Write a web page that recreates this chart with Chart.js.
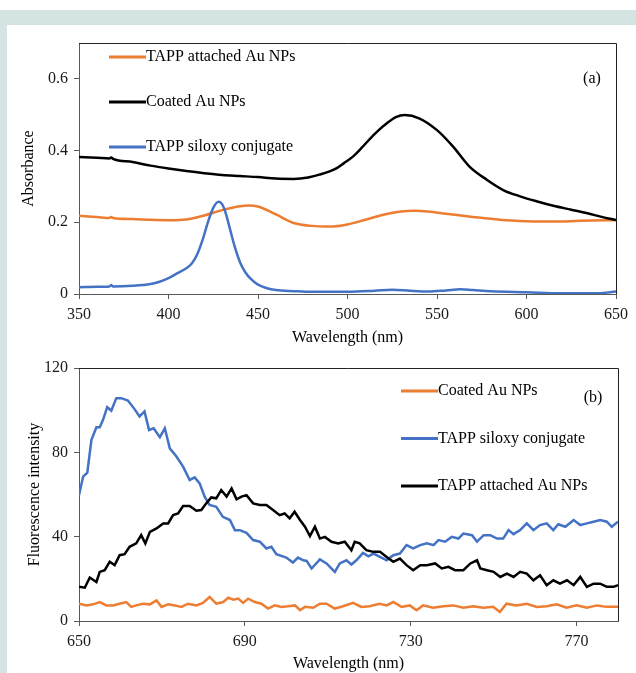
<!DOCTYPE html>
<html>
<head>
<meta charset="utf-8">
<script src="https://cdn.jsdelivr.net/npm/chart.js@4.4.0/dist/chart.umd.min.js"></script>
<style>
body { margin: 0; background: #fff; width: 636px; height: 673px; position: relative; overflow: hidden; }
#band { position: absolute; left: 0; top: 10px; width: 636px; height: 15px; background: #d4e4e3; }
#strip { position: absolute; left: 0; top: 10px; width: 7px; height: 663px; background: #d4e4e3; }
#boxA { position: absolute; left: 7px; top: 25px; }
#boxB { position: absolute; left: 7px; top: 350px; }
</style>
</head>
<body>
<div id="band"></div>
<div id="strip"></div>
<div id="boxA"><canvas id="chartA" width="629" height="325"></canvas></div>
<div id="boxB"><canvas id="chartB" width="629" height="323"></canvas></div>
<script>
// tick labels
const ticksXA = [350, 400, 450, 500, 550, 600, 650];
const ticksYA = [0, 0.2, 0.4, 0.6];
const ticksXB = [650, 690, 730, 770];
const ticksYB = [0, 40, 80, 120];

// (a) absorbance spectra
const attachedWl = [350, 360, 367, 368, 369, 380, 390, 400, 410, 420, 430, 440, 445, 450, 460, 470, 480, 490, 500, 510, 520, 530, 537, 545, 555, 570, 585, 600, 615, 630, 650];
const attachedAbs = [0.218, 0.215, 0.212, 0.215, 0.212, 0.209, 0.207, 0.206, 0.208, 0.219, 0.234, 0.245, 0.247, 0.244, 0.222, 0.198, 0.190, 0.188, 0.194, 0.207, 0.221, 0.230, 0.232, 0.230, 0.224, 0.215, 0.207, 0.203, 0.202, 0.204, 0.206];

const coatedWl = [350, 360, 367, 368, 369, 380, 390, 400, 410, 420, 430, 440, 450, 460, 470, 478, 485, 490, 494, 498, 503, 508, 512, 517, 522, 527, 532, 540, 550, 559, 568, 578, 587, 596, 606, 615, 625, 634, 642, 650];
const coatedAbs = [0.382, 0.380, 0.378, 0.381, 0.377, 0.368, 0.358, 0.350, 0.343, 0.337, 0.332, 0.329, 0.326, 0.322, 0.321, 0.325, 0.334, 0.342, 0.351, 0.365, 0.383, 0.408, 0.430, 0.455, 0.476, 0.493, 0.499, 0.490, 0.457, 0.411, 0.356, 0.318, 0.290, 0.273, 0.258, 0.246, 0.235, 0.225, 0.215, 0.206];

const siloxyWl = [350, 360, 367, 368, 369, 380, 390, 395, 400, 405, 410, 413, 416, 419, 422, 425, 428, 430, 432, 434, 437, 440, 443, 446, 450, 455, 460, 470, 480, 500, 515, 525, 535, 545, 555, 563, 570, 580, 600, 620, 640, 650];
const siloxyAbs = [0.019, 0.020, 0.021, 0.025, 0.021, 0.023, 0.028, 0.034, 0.044, 0.058, 0.072, 0.085, 0.110, 0.150, 0.200, 0.240, 0.257, 0.250, 0.225, 0.188, 0.132, 0.088, 0.060, 0.042, 0.026, 0.016, 0.011, 0.008, 0.006, 0.006, 0.009, 0.012, 0.009, 0.007, 0.010, 0.013, 0.011, 0.008, 0.005, 0.002, 0.002, 0.007];

// (b) fluorescence spectra
const flSiloxyWl = [650, 651, 652, 653, 654.2, 655, 655.8, 656.8, 657.8, 659, 660.2, 661.8, 663.4, 664.6, 665.8, 666.9, 668, 669.5, 670.7, 671.9, 673.5, 675.1, 676.7, 677.9, 679.1, 680.3, 681.5, 683.1, 684.7, 686.4, 687.6, 688.8, 690.4, 692, 693.6, 695.2, 696.4, 697.6, 700, 701.6, 702.8, 704.1, 704.9, 706.1, 708.1, 709.7, 711.7, 712.9, 714.5, 715.7, 716.9, 718.5, 719.8, 721, 722.6, 724.2, 725.8, 727.4, 729, 730.6, 732.3, 733.9, 735.5, 736.7, 738.3, 739.9, 741.5, 742.7, 744.8, 746, 747.6, 749.2, 750.8, 752.3, 753.6, 754.8, 756.4, 758, 759.6, 761.2, 762.8, 764.4, 765.6, 767.3, 769.3, 770.9, 772.5, 774.1, 775.7, 777.3, 778.5, 780];
const flSiloxy = [59.7, 68.5, 70.4, 85.9, 91.9, 91.9, 95.4, 101.4, 99.8, 105.7, 105.7, 104.6, 100.5, 97, 99.4, 90.6, 91.4, 87.2, 91.4, 81.9, 78, 73.2, 66.9, 68.1, 65.3, 59, 55, 54.2, 49.4, 47.9, 43.1, 43.1, 41.8, 38.4, 37.6, 34.4, 35.2, 31.7, 30.1, 27.7, 30.1, 28.8, 28.5, 24.9, 29.2, 27.3, 23.3, 27.3, 28.8, 26.8, 28.8, 32.3, 30.7, 32, 30.4, 28.8, 31.2, 32, 36, 34.4, 36, 36.8, 36, 38.4, 37.6, 39.9, 39.1, 41.5, 40.7, 37.6, 40.7, 40.7, 39.1, 39.1, 43.1, 41.2, 43.1, 46.3, 43.1, 45.5, 46.3, 43.1, 45.9, 44.7, 47.9, 45.5, 46.3, 47.1, 47.9, 47.1, 44.7, 47.1];

const flAttachedWl = [650, 651.4, 652.6, 654.2, 655, 656.2, 657.4, 658.6, 659.8, 661, 662.2, 663.8, 665, 666, 667.1, 668.7, 670.3, 671.5, 672.7, 673.9, 675.1, 676.7, 678.3, 679.5, 680.7, 681.9, 683.1, 684.3, 685.6, 686.8, 688, 689.2, 690.4, 692, 693.6, 695.2, 696.8, 698.4, 699.6, 700.8, 702, 703.3, 704.5, 705.7, 706.9, 708.1, 709.3, 710.9, 712.5, 714.1, 715.7, 716.5, 717.7, 719.3, 721, 722.6, 724.2, 725.8, 727.4, 729, 730.6, 732.3, 733.9, 735.9, 737.5, 739.1, 740.7, 742.7, 744.4, 746, 746.8, 748.4, 750, 751.6, 753.2, 754.8, 756.4, 758, 759.6, 761.2, 762.8, 764.4, 766, 767.7, 769.3, 770.9, 772.5, 774.1, 775.7, 777.3, 778.9, 780];
const flAttached = [16.2, 15.8, 20.6, 18.5, 23.3, 24.1, 28.1, 26.5, 31.2, 31.7, 35.2, 36.8, 40.7, 36.8, 42.3, 43.9, 46.3, 46.3, 50.2, 51, 54.5, 54.5, 52.3, 52.6, 55.8, 58.6, 58.2, 62.1, 59, 62.9, 57.7, 59, 59.7, 55.8, 55, 55, 52.6, 50.2, 51, 48.7, 51.8, 47.9, 44.7, 40.3, 44.7, 39.1, 39.9, 37.6, 36.8, 37.6, 33.6, 37.6, 36.8, 33.6, 32.8, 32.8, 30.4, 28.1, 29.6, 26.5, 24.1, 26.5, 26.5, 27.3, 24.9, 25.7, 24.1, 24.1, 27.3, 28.8, 24.9, 24.1, 23.3, 20.9, 22.5, 20.9, 23.3, 22.5, 19.3, 21.7, 17, 19.3, 17.7, 19.3, 17, 20.9, 16.2, 17.7, 17.7, 16.2, 16.2, 17];

const flCoatedWl = [650, 651.8, 653.4, 655, 656.6, 658.2, 659.8, 661.4, 662.6, 663.8, 665.4, 667.1, 668.7, 669.9, 671.5, 673.1, 674.7, 676.3, 678.3, 679.9, 681.5, 683.1, 684.8, 686, 687.2, 688.4, 689.6, 690.8, 692.4, 694, 695.6, 697.2, 698.8, 700.4, 702.1, 703.3, 704.5, 706.5, 708.1, 709.7, 711.7, 713.7, 716.1, 718.1, 720.1, 722.5, 724.2, 725.8, 727.8, 729.8, 731.4, 733, 735.4, 737.9, 740.3, 742.7, 745.1, 747.5, 749.9, 751.5, 753.1, 755.5, 758, 760.4, 762.8, 765.2, 767.6, 770, 772.5, 774.9, 777.3, 780];
const flCoated = [8.2, 7.4, 7.9, 9, 7.4, 7.4, 8.2, 9, 6.7, 7.4, 8.2, 7.9, 9.8, 6.7, 7.9, 7.4, 6.7, 8.2, 7.4, 8.6, 11.4, 8.2, 9, 11.1, 10.1, 10.6, 8.6, 10.6, 9, 8.2, 5.9, 7.4, 6.7, 7, 7.4, 5.1, 6.7, 6.3, 8.2, 8.2, 5.9, 7, 8.6, 6.7, 7, 8.2, 7.4, 9, 6.7, 7.4, 5.1, 7.4, 6.3, 7, 7.4, 6.3, 7, 6.3, 6.7, 4.3, 8.2, 7.4, 8.2, 6.7, 7, 7.9, 6.3, 7.4, 6.3, 7.4, 6.7, 6.7];

const ORANGE = '#ed7d31';
const BLUE = '#4472c4';
const BLACK = '#000000';
const FONT = '"Liberation Serif", "Times New Roman", serif';

function pts(xs, ys) {
  return xs.map(function(x, i) { return { x: x, y: ys[i] }; });
}

// top + right frame, legend drawn inside the plot, panel letter
const framePlugin = {
  id: 'frame',
  afterDraw(chart, args, opts) {
    const ctx = chart.ctx;
    const a = chart.chartArea;
    ctx.save();
    ctx.strokeStyle = '#222';
    ctx.lineWidth = 1;
    ctx.beginPath();
    ctx.moveTo(a.left, a.top + 0.5);
    ctx.lineTo(a.right + 0.5, a.top + 0.5);
    ctx.lineTo(a.right + 0.5, a.bottom);
    ctx.stroke();

    ctx.font = '16px ' + FONT;
    ctx.textBaseline = 'middle';
    ctx.fillStyle = '#000';
    opts.order.forEach(function(di, k) {
      const ds = chart.data.datasets[di];
      const y = a.top + opts.y + k * opts.gap;
      const x = a.left + opts.x;
      ctx.strokeStyle = ds.borderColor;
      ctx.lineWidth = 3;
      ctx.beginPath();
      ctx.moveTo(x, y);
      ctx.lineTo(x + 37, y);
      ctx.stroke();
      ctx.textAlign = 'left';
      ctx.fillText(ds.label, x + 37, y);
    });
    ctx.textAlign = 'center';
    ctx.fillText(opts.tag, a.left + opts.tagX, a.top + opts.tagY);
    ctx.restore();
  }
};

function fixedTicks(list) {
  return function(s) { s.ticks = list.map(function(v) { return { value: v }; }); };
}

function axisX(min, max, list, title, h, pb) {
  return {
    type: 'linear', min: min, max: max,
    afterBuildTicks: fixedTicks(list),
    afterFit: function(s) { s.height = h; },
    ticks: { autoSkip: false, maxRotation: 0, padding: 6, color: '#1a1a1a', font: { family: FONT, size: 16 } },
    grid: { drawOnChartArea: false, drawTicks: true, tickLength: 5, color: '#595959' },
    border: { display: true, color: '#595959' },
    title: { display: true, text: title, color: '#000', font: { family: FONT, size: 16 }, padding: { top: 0, bottom: pb } }
  };
}

function axisY(min, max, list, title, pt, fmt) {
  return {
    type: 'linear', min: min, max: max,
    afterBuildTicks: fixedTicks(list),
    afterFit: function(s) { s.width = 72; },
    ticks: { padding: 6, color: '#1a1a1a', font: { family: FONT, size: 16 }, callback: fmt },
    grid: { drawOnChartArea: false, drawTicks: true, tickLength: 5, color: '#595959' },
    border: { display: true, color: '#595959' },
    title: { display: true, text: title, color: '#000', font: { family: FONT, size: 16 }, padding: { top: pt, bottom: 0 } }
  };
}

const chartA = new Chart(document.getElementById('chartA'), {
  type: 'line',
  data: {
    datasets: [
      { label: 'TAPP siloxy conjugate', data: pts(siloxyWl, siloxyAbs), borderColor: BLUE, borderWidth: 2.5, pointRadius: 0, cubicInterpolationMode: 'monotone', fill: false },
      { label: 'Coated Au NPs', data: pts(coatedWl, coatedAbs), borderColor: BLACK, borderWidth: 2.5, pointRadius: 0, cubicInterpolationMode: 'monotone', fill: false },
      { label: 'TAPP attached Au NPs', data: pts(attachedWl, attachedAbs), borderColor: ORANGE, borderWidth: 2.5, pointRadius: 0, cubicInterpolationMode: 'monotone', fill: false }
    ]
  },
  options: {
    responsive: false,
    animation: false,
    parsing: false,
    layout: { padding: { top: 18, right: 20, left: 0, bottom: 0 } },
    plugins: {
      legend: { display: false },
      tooltip: { enabled: false },
      frame: { order: [2, 1, 0], x: 30, y: 14, gap: 45, tag: '(a)', tagX: 513, tagY: 36 }
    },
    scales: {
      x: axisX(350, 650, ticksXA, 'Wavelength (nm)', 56, 3),
      y: axisY(0, 0.7, ticksYA, 'Absorbance', 12, function(v) { return v === 0 ? '0' : v.toFixed(1); })
    }
  },
  plugins: [framePlugin]
});

const chartB = new Chart(document.getElementById('chartB'), {
  type: 'line',
  data: {
    datasets: [
      { label: 'Coated Au NPs', data: pts(flCoatedWl, flCoated), borderColor: ORANGE, borderWidth: 2.5, pointRadius: 0, tension: 0, fill: false },
      { label: 'TAPP attached Au NPs', data: pts(flAttachedWl, flAttached), borderColor: BLACK, borderWidth: 2.5, pointRadius: 0, tension: 0, fill: false },
      { label: 'TAPP siloxy conjugate', data: pts(flSiloxyWl, flSiloxy), borderColor: BLUE, borderWidth: 2.5, pointRadius: 0, tension: 0, fill: false }
    ]
  },
  options: {
    responsive: false,
    animation: false,
    parsing: false,
    layout: { padding: { top: 18, right: 18, left: 0, bottom: 0 } },
    plugins: {
      legend: { display: false },
      tooltip: { enabled: false },
      frame: { order: [0, 2, 1], x: 322, y: 23, gap: 47.5, tag: '(b)', tagX: 514, tagY: 30 }
    },
    scales: {
      x: axisX(650, 780, ticksXB, 'Wavelength (nm)', 52, 0),
      y: axisY(0, 120, ticksYB, 'Fluorescence intensity', 18, function(v) { return String(v); })
    }
  },
  plugins: [framePlugin]
});
</script>
</body>
</html>
